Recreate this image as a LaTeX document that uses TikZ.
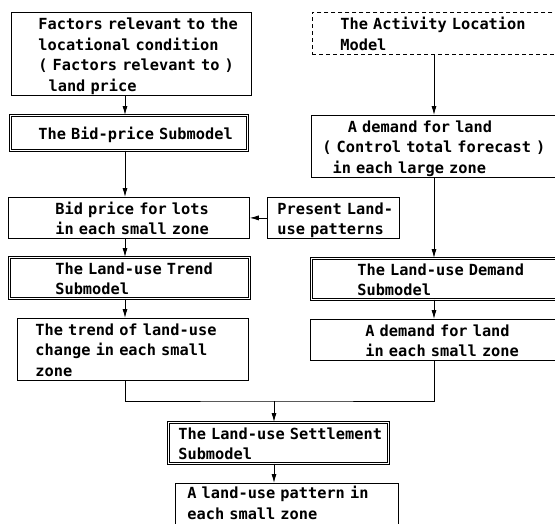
\documentclass[tikz,border=0pt]{standalone}
\usepackage{fontspec}
\newfontfamily\chartfont{DejaVu Sans Mono}
\usetikzlibrary{arrows.meta}

% text block pushed in from the left edge of its box (and a little down)
\newcommand{\boxtxt}[3][-2.5pt]{\hspace*{#2}\raisebox{#1}[\height][\depth]{\begin{tabular}{@{}l@{}}#3\end{tabular}}}

\begin{document}
\begin{tikzpicture}[x=1pt, y=-1pt,
  box/.style={draw, line width=0.8pt, inner sep=0pt, anchor=north west, align=left,
    font=\fontsize{15.3}{20.5}\selectfont\chartfont\bfseries},
  submodel/.style={box, double, double distance=1.4pt, line width=0.7pt},
  outside/.style={box, dashed, dash pattern=on 4pt off 3pt},
  flow/.style={line width=0.8pt, -{Latex[length=9pt,width=5pt]}}]
\useasboundingbox (0,0) rectangle (555,523);

% Left column
\node[box, text width=240pt, minimum height=83pt] (factors) at (11,12)
  {\boxtxt{27pt}{Factors relevant to the\\locational condition\\(~Factors relevant to~)\\~~land price}};
\node[submodel, text width=237pt, minimum height=35pt] (bidsub) at (10,115)
  {\boxtxt{28pt}{The Bid-price Submodel}};
\node[box, text width=241pt, minimum height=40pt] (bidlots) at (8,197)
  {\boxtxt{47pt}{Bid price for lots\\in each small zone}};
\node[box, text width=132pt, minimum height=40pt] (present) at (267,197)
  {\boxtxt{10pt}{Present Land-\\use patterns}};
\node[submodel, text width=240pt, minimum height=41pt] (trendsub) at (9,257)
  {\boxtxt{46pt}{The Land-use Trend\\Submodel}};
\node[box, text width=231pt, minimum height=61pt] (trend) at (17,318)
  {\boxtxt{18pt}{The trend of land-use\\change in each small\\zone}};

% Right column
\node[outside, text width=253pt, minimum height=42pt] (activity) at (312,12)
  {\boxtxt{28pt}{The Activity Location\\Model}};
\node[box, text width=254pt, minimum height=61pt] (demlarge) at (311,115)
  {\boxtxt{11pt}{~~~~~A demand for land\\(~Control total forecast~)\\~~in each large zone}};
\node[submodel, text width=254pt, minimum height=40pt] (demsub) at (311,258)
  {\boxtxt{46pt}{The Land-use Demand\\Submodel}};
\node[box, text width=255pt, minimum height=40pt] (demsmall) at (310,319)
  {\boxtxt{55pt}{A demand for land\\in each small zone}};

% Bottom
\node[submodel, text width=220pt, minimum height=40pt] (settle) at (168,422)
  {\boxtxt{10pt}{The Land-use Settlement\\Submodel}};
\node[box, text width=223pt, minimum height=43pt] (pattern) at (175,483)
  {\boxtxt[0pt]{12pt}{A land-use pattern in\\each small zone}};

% columns the arrows run along
\coordinate (lcol) at (125,0);
\coordinate (rcol) at (434,0);
\coordinate (join) at (274,401);

\draw[flow] (factors.south -| lcol) -- (bidsub.north -| lcol);
\draw[flow] (bidsub.south -| lcol) -- (bidlots.north -| lcol);
\draw[flow] (present) -- (bidlots);
\draw[flow] (bidlots.south -| lcol) -- (trendsub.north -| lcol);
\draw[flow] (trendsub.south -| lcol) -- (trend.north -| lcol);

\draw[flow] (activity.south -| rcol) -- (demlarge.north -| rcol);
\draw[flow] (demlarge.south -| rcol) -- (demsub.north -| rcol);
\draw[flow] (demsub.south -| rcol) -- (demsmall.north -| rcol);

% both branches meet
\draw[line width=0.8pt] (trend.south -| lcol) |- (join) -| (demsmall.south -| rcol);
\draw[flow] (join) -- (settle.north -| join);
\draw[flow] (settle.south -| join) -- (pattern.north -| join);
\end{tikzpicture}
\end{document}
